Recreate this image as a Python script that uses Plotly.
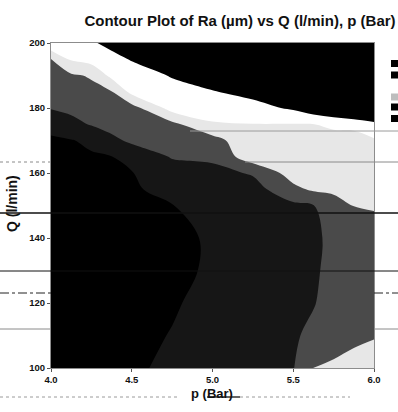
import plotly.graph_objects as go

# Fitted surface of Ra (µm) over pressure p (Bar) and flow Q (l/min)
p_bar = [4.0, 4.125, 4.25, 4.375, 4.5, 4.75, 5.0, 5.25, 5.5, 5.625, 5.75, 5.875, 6.0]
q_lmin = [100, 110, 120, 130, 140, 150, 155, 160, 165, 170, 175, 180, 185, 190, 195, 200]
ra_um = [
    [0.300, 0.320, 0.340, 0.360, 0.380, 0.426, 0.480, 0.534, 0.590, 0.804, 0.830, 0.848, 0.870],
    [0.280, 0.301, 0.322, 0.343, 0.364, 0.406, 0.464, 0.520, 0.578, 0.640, 0.720, 0.770, 0.790],
    [0.266, 0.286, 0.306, 0.326, 0.346, 0.386, 0.442, 0.504, 0.566, 0.590, 0.670, 0.710, 0.730],
    [0.260, 0.279, 0.298, 0.316, 0.334, 0.372, 0.416, 0.486, 0.554, 0.580, 0.640, 0.680, 0.700],
    [0.264, 0.282, 0.300, 0.318, 0.336, 0.372, 0.414, 0.480, 0.546, 0.584, 0.620, 0.690, 0.720],
    [0.280, 0.299, 0.318, 0.338, 0.358, 0.396, 0.454, 0.500, 0.560, 0.594, 0.740, 0.804, 0.816],
    [0.294, 0.313, 0.332, 0.352, 0.372, 0.470, 0.480, 0.520, 0.750, 0.830, 0.830, 0.844, 0.858],
    [0.310, 0.330, 0.350, 0.370, 0.390, 0.540, 0.540, 0.620, 0.890, 0.860, 0.874, 0.886, 0.898],
    [0.336, 0.357, 0.378, 0.394, 0.500, 0.610, 0.640, 0.920, 0.920, 0.906, 0.918, 0.928, 0.938],
    [0.370, 0.390, 0.440, 0.564, 0.628, 0.720, 0.720, 0.960, 0.960, 0.954, 0.960, 0.970, 0.980],
    [0.466, 0.546, 0.614, 0.654, 0.680, 0.750, 0.982, 0.996, 0.994, 0.998, 1.020, 1.020, 1.120],
    [0.612, 0.644, 0.680, 0.722, 0.720, 1.080, 1.090, 1.136, 1.228, 1.334, 1.440, 1.600, 1.700],
    [0.672, 0.708, 0.746, 0.790, 1.060, 1.140, 1.190, 1.260, 1.360, 1.460, 1.560, 1.720, 1.820],
    [0.734, 0.772, 0.820, 1.054, 1.120, 1.212, 1.300, 1.380, 1.480, 1.600, 1.680, 1.840, 1.940],
    [0.794, 1.026, 1.086, 1.148, 1.212, 1.340, 1.420, 1.500, 1.600, 1.720, 1.800, 1.960, 2.060],
    [1.180, 1.122, 1.180, 1.246, 1.340, 1.460, 1.540, 1.620, 1.720, 1.840, 1.920, 2.080, 2.180],
]

ra_level_start = 0.4
ra_level_end = 1.2
ra_level_step = 0.2
band_colors = ["#000000", "#161616", "#4a4a4a", "#e7e7e7", "#ffffff", "#000000"]
legend_swatches = ["#000000", "#000000", "#ffffff", "#bdbdbd", "#000000", "#000000"]

x_ticks = [4.0, 4.5, 5.0, 5.5, 6.0]
x_tick_text = ["4.0", "4.5", "5.0", "5.5", "6.0"]
y_ticks = [100, 120, 140, 160, 180, 200]
y_tick_text = ["100", "120", "140", "160", "180", "200"]

title_text = "Contour Plot of Ra (µm) vs Q (l/min), p (Bar)"
x_title = "p (Bar)"
y_title = "Q (l/min)"

# page geometry (pixels)
FIG_W, FIG_H = 398, 412
M_L, M_R, M_T, M_B = 51, 24, 43, 44
PLOT_W = FIG_W - M_L - M_R
PLOT_H = FIG_H - M_T - M_B


def fx(px):
    return (px - M_L) / PLOT_W


def fy(py):
    return (M_T + PLOT_H - py) / PLOT_H


n_bands = len(band_colors)
colorscale = [[i / (n_bands - 1), c] for i, c in enumerate(band_colors)]

fig = go.Figure(
    go.Contour(
        x=p_bar,
        y=q_lmin,
        z=ra_um,
        contours=dict(start=ra_level_start, end=ra_level_end, size=ra_level_step,
                      coloring="fill", showlines=False),
        colorscale=colorscale,
        showscale=False,
        line=dict(width=0, smoothing=1.0),
        hoverinfo="skip",
    )
)

font_family = "Liberation Sans, Arial, sans-serif"
tick_font = dict(family=font_family, size=9.5, color="#111111", weight="bold")

fig.update_xaxes(
    range=[4.0, 6.0], tickvals=x_ticks, ticktext=x_tick_text,
    ticks="outside", ticklen=3, tickcolor="#555555", tickfont=tick_font,
    showgrid=False, zeroline=False, showline=True, linecolor="#8c8c8c",
    linewidth=1, mirror=True,
)
fig.update_yaxes(
    range=[100, 200], tickvals=y_ticks, ticktext=y_tick_text,
    ticks="outside", ticklen=3, tickcolor="#555555", tickfont=tick_font,
    showgrid=False, zeroline=False, showline=True, linecolor="#8c8c8c",
    linewidth=1, mirror=True,
)

annotations = [
    dict(text=y_title, xref="paper", yref="paper", x=fx(12), y=fy(204),
         textangle=-90, showarrow=False, xanchor="center", yanchor="middle",
         font=dict(family=font_family, size=14, color="#111111", weight="bold")),
    dict(text=x_title, xref="paper", yref="paper", x=fx(212), y=fy(393),
         showarrow=False, xanchor="center", yanchor="middle",
         font=dict(family=font_family, size=13, color="#111111", weight="bold")),
]

shapes = []
# legend swatches at the right edge
swatch_centres = [63.5, 75, 86.5, 97, 107, 118.5]
for yc, col in zip(swatch_centres, legend_swatches):
    shapes.append(dict(type="rect", xref="paper", yref="paper",
                       x0=fx(391), x1=fx(400), y0=fy(yc + 3.5), y1=fy(yc - 3.5),
                       fillcolor=col, line=dict(width=0), layer="above"))

# ruled lines of the printed page
page_rules = [
    (131, 190, 398, "#9a9a9a", 1, "solid"),
    (162, 0, 51, "#8a8a8a", 1, "dot"),
    (162, 245, 398, "#8a8a8a", 1, "solid"),
    (213, 0, 398, "#111111", 1.5, "solid"),
    (271, 0, 398, "#111111", 1, "solid"),
    (293, 0, 51, "#222222", 1, "dashdot"),
    (293, 374, 398, "#222222", 1, "dashdot"),
    (329, 0, 51, "#8a8a8a", 1, "solid"),
    (329, 374, 398, "#8a8a8a", 1, "solid"),
    (397, 0, 178, "#9a9a9a", 1, "dot"),
    (397, 207, 240, "#333333", 1.5, "solid"),
    (397, 240, 350, "#9a9a9a", 1, "dot"),
]
for yy, x0, x1, col, w, dash in page_rules:
    shapes.append(dict(type="line", xref="paper", yref="paper",
                       x0=fx(x0), x1=fx(x1), y0=fy(yy), y1=fy(yy),
                       line=dict(color=col, width=w, dash=dash), layer="above"))

fig.update_layout(
    width=FIG_W, height=FIG_H,
    margin=dict(l=M_L, r=M_R, t=M_T, b=M_B, autoexpand=False),
    paper_bgcolor="white", plot_bgcolor="white",
    title=dict(text=title_text, x=240 / FIG_W, xanchor="center",
               y=1 - 21 / FIG_H, yanchor="middle",
               font=dict(family=font_family, size=15, color="#111111", weight="bold")),
    annotations=annotations,
    shapes=shapes,
    showlegend=False,
)

fig.write_html("out.html")
